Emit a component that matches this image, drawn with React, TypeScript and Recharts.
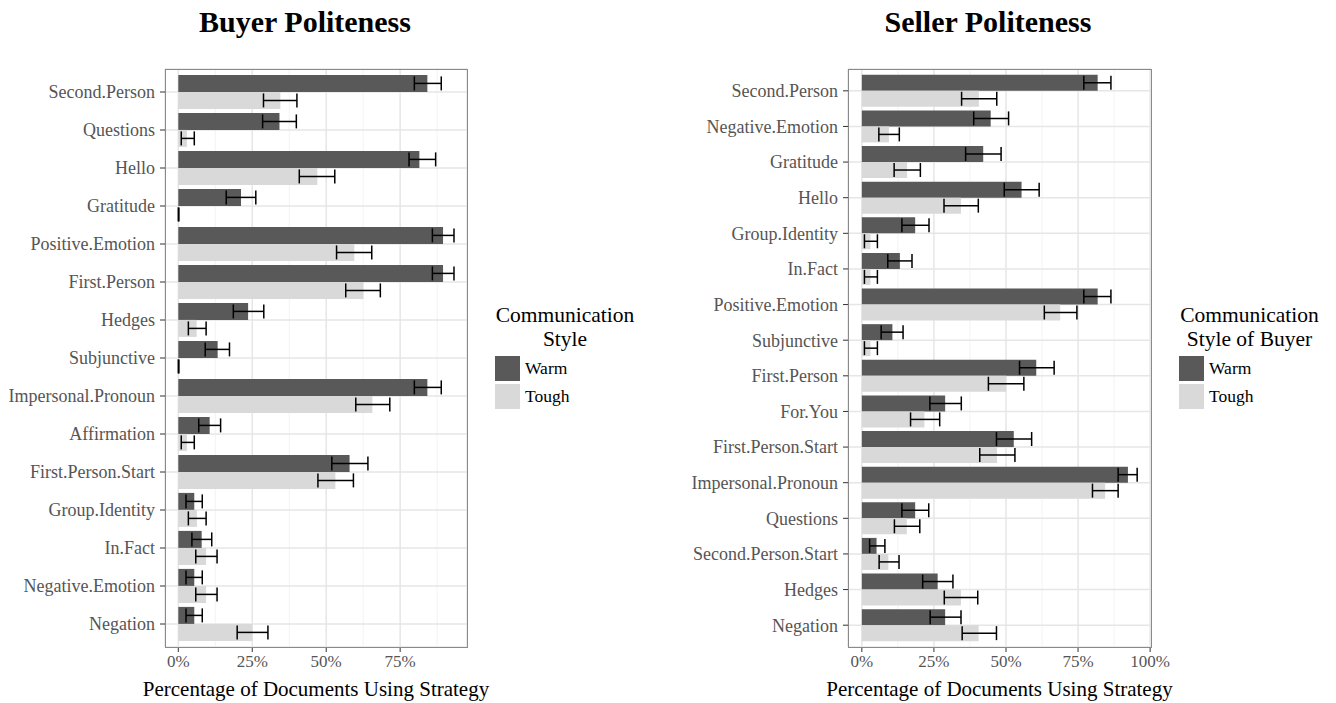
import React from 'react';
import { BarChart, Bar, XAxis, YAxis, CartesianGrid, ErrorBar } from 'recharts';

const buyerCategories = ['Second.Person', 'Questions', 'Hello', 'Gratitude', 'Positive.Emotion', 'First.Person', 'Hedges', 'Subjunctive', 'Impersonal.Pronoun', 'Affirmation', 'First.Person.Start', 'Group.Identity', 'In.Fact', 'Negative.Emotion', 'Negation'];
const buyerWarm = [84.2, 34.2, 81.5, 21.2, 89.5, 89.5, 23.6, 13.3, 84.2, 10.6, 57.9, 5.4, 7.9, 5.4, 5.4];
const buyerWarmLow = [79.8, 28.5, 78.0, 16.2, 85.9, 85.9, 18.6, 9.1, 79.8, 6.9, 51.9, 2.6, 4.6, 2.6, 2.6];
const buyerWarmHigh = [88.9, 39.9, 87.0, 26.2, 93.2, 93.2, 28.9, 17.3, 88.9, 14.3, 64.1, 8.1, 11.3, 8.1, 8.1];
const buyerTough = [34.5, 2.9, 47.0, 0.1, 59.5, 62.6, 6.2, 0.1, 65.6, 2.9, 53.1, 6.3, 9.4, 9.4, 25.0];
const buyerToughLow = [28.8, 1.0, 40.9, 0, 53.5, 56.6, 3.4, 0, 60.0, 1.0, 47.2, 3.4, 5.9, 5.9, 19.9];
const buyerToughHigh = [40.1, 5.4, 52.9, 0.2, 65.4, 68.3, 9.4, 0.2, 71.5, 5.4, 59.2, 9.4, 13.1, 13.1, 30.3];

const sellerCategories = ['Second.Person', 'Negative.Emotion', 'Gratitude', 'Hello', 'Group.Identity', 'In.Fact', 'Positive.Emotion', 'Subjunctive', 'First.Person', 'For.You', 'First.Person.Start', 'Impersonal.Pronoun', 'Questions', 'Second.Person.Start', 'Hedges', 'Negation'];
const sellerWarm = [81.8, 44.7, 42.1, 55.4, 18.5, 13.2, 81.8, 10.6, 60.5, 28.9, 52.7, 92.3, 18.5, 5.1, 26.3, 28.9];
const sellerWarmLow = [77.0, 38.8, 36.0, 49.4, 13.9, 9.0, 77.0, 6.7, 54.7, 23.6, 46.7, 88.9, 13.9, 2.7, 21.1, 23.7];
const sellerWarmHigh = [86.4, 50.9, 48.3, 61.5, 23.3, 17.4, 86.4, 14.3, 66.7, 34.5, 58.9, 95.5, 23.2, 8.0, 31.6, 34.4];
const sellerTough = [40.6, 9.4, 15.7, 34.4, 3.0, 3.0, 68.8, 3.0, 50.1, 21.7, 46.9, 84.4, 15.6, 9.2, 34.4, 40.5];
const sellerToughLow = [34.6, 5.9, 11.2, 28.5, 0.9, 0.9, 63.3, 0.9, 43.9, 16.9, 40.9, 80.0, 11.3, 6.0, 28.6, 34.8];
const sellerToughHigh = [46.8, 13.0, 20.3, 40.4, 5.4, 5.4, 74.6, 5.4, 56.2, 27.0, 53.1, 88.9, 20.1, 12.9, 40.2, 46.7];

const seriesNames = ['Warm', 'Tough'];
const seriesColors = ['#595959', '#d9d9d9'];

const buyerTicks = [0, 25, 50, 75];
const buyerMinor = [12.5, 37.5, 62.5, 87.5];
const sellerTicks = [0, 25, 50, 75, 100];
const sellerMinor = [12.5, 37.5, 62.5, 87.5];

const FONT = '"Liberation Serif", "DejaVu Serif", serif';

function buildRows(cats: string[], w: number[], wl: number[], wh: number[], t: number[], tl: number[], th: number[]) {
  return cats.map((c, i) => ({
    cat: c,
    Warm: w[i],
    Tough: t[i],
    warmErr: [w[i] - wl[i], wh[i] - w[i]],
    toughErr: [t[i] - tl[i], th[i] - t[i]],
  }));
}

const buyerRows = buildRows(buyerCategories, buyerWarm, buyerWarmLow, buyerWarmHigh, buyerTough, buyerToughLow, buyerToughHigh);
const sellerRows = buildRows(sellerCategories, sellerWarm, sellerWarmLow, sellerWarmHigh, sellerTough, sellerToughLow, sellerToughHigh);

type PanelProps = {
  rows: any[];
  left: number;
  width: number;
  marginRight: number;
  domain: [number, number];
  ticks: number[];
  minor: number[];
};

function Panel({ rows, left, width, marginRight, domain, ticks, minor }: PanelProps) {
  const plotLeft = left + 165;
  const plotRight = left + width - marginRight;
  const plotCenter = (165 + width - marginRight) / 2;
  return (
    <>
      <div style={{ position: 'absolute', left, top: 0 }}>
        <BarChart
          width={width}
          height={703}
          data={rows}
          layout="vertical"
          margin={{ top: 69, right: marginRight, bottom: 0, left: 0 }}
          barCategoryGap="5%"
          barGap={0}
        >
          <CartesianGrid horizontal={false} vertical={true} stroke="#f3f3f3" strokeWidth={1} verticalValues={minor} />
          <CartesianGrid horizontal={true} vertical={true} stroke="#e6e6e6" strokeWidth={1.5} />
          <XAxis
            type="number"
            domain={domain}
            ticks={ticks}
            allowDataOverflow
            tickFormatter={(v: number) => `${v}%`}
            height={56}
            tickSize={5}
            tickMargin={3}
            axisLine={false}
            tickLine={{ stroke: '#333' }}
            tick={{ fontSize: 17, fill: '#555', fontFamily: FONT }}
          />
          <YAxis
            type="category"
            dataKey="cat"
            width={165}
            tickSize={5}
            tickMargin={5}
            axisLine={false}
            tickLine={{ stroke: '#333' }}
            padding={{ top: 4, bottom: 4 }}
            interval={0}
            tick={{ fontSize: 18, fill: '#555', fontFamily: FONT }}
          />
          <Bar dataKey="Warm" fill={seriesColors[0]} isAnimationActive={false}>
            <ErrorBar dataKey="warmErr" direction="x" width={7} stroke="#000" strokeWidth={1.5} />
          </Bar>
          <Bar dataKey="Tough" fill={seriesColors[1]} isAnimationActive={false}>
            <ErrorBar dataKey="toughErr" direction="x" width={7} stroke="#000" strokeWidth={1.5} />
          </Bar>
        </BarChart>
      </div>
      <div
        style={{
          position: 'absolute',
          left: plotLeft,
          top: 69,
          width: plotRight - plotLeft - 1,
          height: 578 - 1,
          border: '1px solid #8a8a8a',
          pointerEvents: 'none',
        }}
      />
      <div
        style={{
          position: 'absolute',
          left: left + plotCenter - 200,
          width: 400,
          top: 676,
          textAlign: 'center',
          fontSize: 21,
          lineHeight: '26px',
          color: '#000',
          whiteSpace: 'nowrap',
        }}
      >
        Percentage of Documents Using Strategy
      </div>
    </>
  );
}

function LegendBox({ left, title, width }: { left: number; title: string[]; width: number }) {
  return (
    <div style={{ position: 'absolute', left, top: 303, width, fontFamily: FONT }}>
      {title.map((t, i) => (
        <div key={i} style={{ textAlign: 'center', fontSize: 21.5, lineHeight: '24px', color: '#000' }}>{t}</div>
      ))}
      <div style={{ height: 4 }} />
      {seriesNames.map((n, i) => (
        <div key={n} style={{ display: 'flex', alignItems: 'center', height: 27.5 }}>
          <div style={{ width: 25, height: 25, background: seriesColors[i], marginLeft: 2 }} />
          <div style={{ marginLeft: 5, fontSize: 17.5, color: '#000' }}>{n}</div>
        </div>
      ))}
    </div>
  );
}

export default function App() {
  return (
    <div style={{ position: 'absolute', left: 0, top: 0, width: 1336, height: 703, background: '#fff', fontFamily: FONT, overflow: 'hidden' }}>
      <div style={{ position: 'absolute', left: 155, top: 5, width: 300, textAlign: 'center', fontSize: 30, fontWeight: 'bold', lineHeight: '34px' }}>Buyer Politeness</div>
      <div style={{ position: 'absolute', left: 838, top: 5, width: 300, textAlign: 'center', fontSize: 30, fontWeight: 'bold', lineHeight: '34px' }}>Seller Politeness</div>
      <Panel rows={buyerRows} left={0} width={480} marginRight={13} domain={[-4.5, 97.6]} ticks={buyerTicks} minor={buyerMinor} />
      <Panel rows={sellerRows} left={683} width={488} marginRight={20} domain={[-4.8, 100.3]} ticks={sellerTicks} minor={sellerMinor} />
      <LegendBox left={493} width={144} title={['Communication', 'Style']} />
      <LegendBox left={1177} width={145} title={['Communication', 'Style of Buyer']} />
    </div>
  );
}
